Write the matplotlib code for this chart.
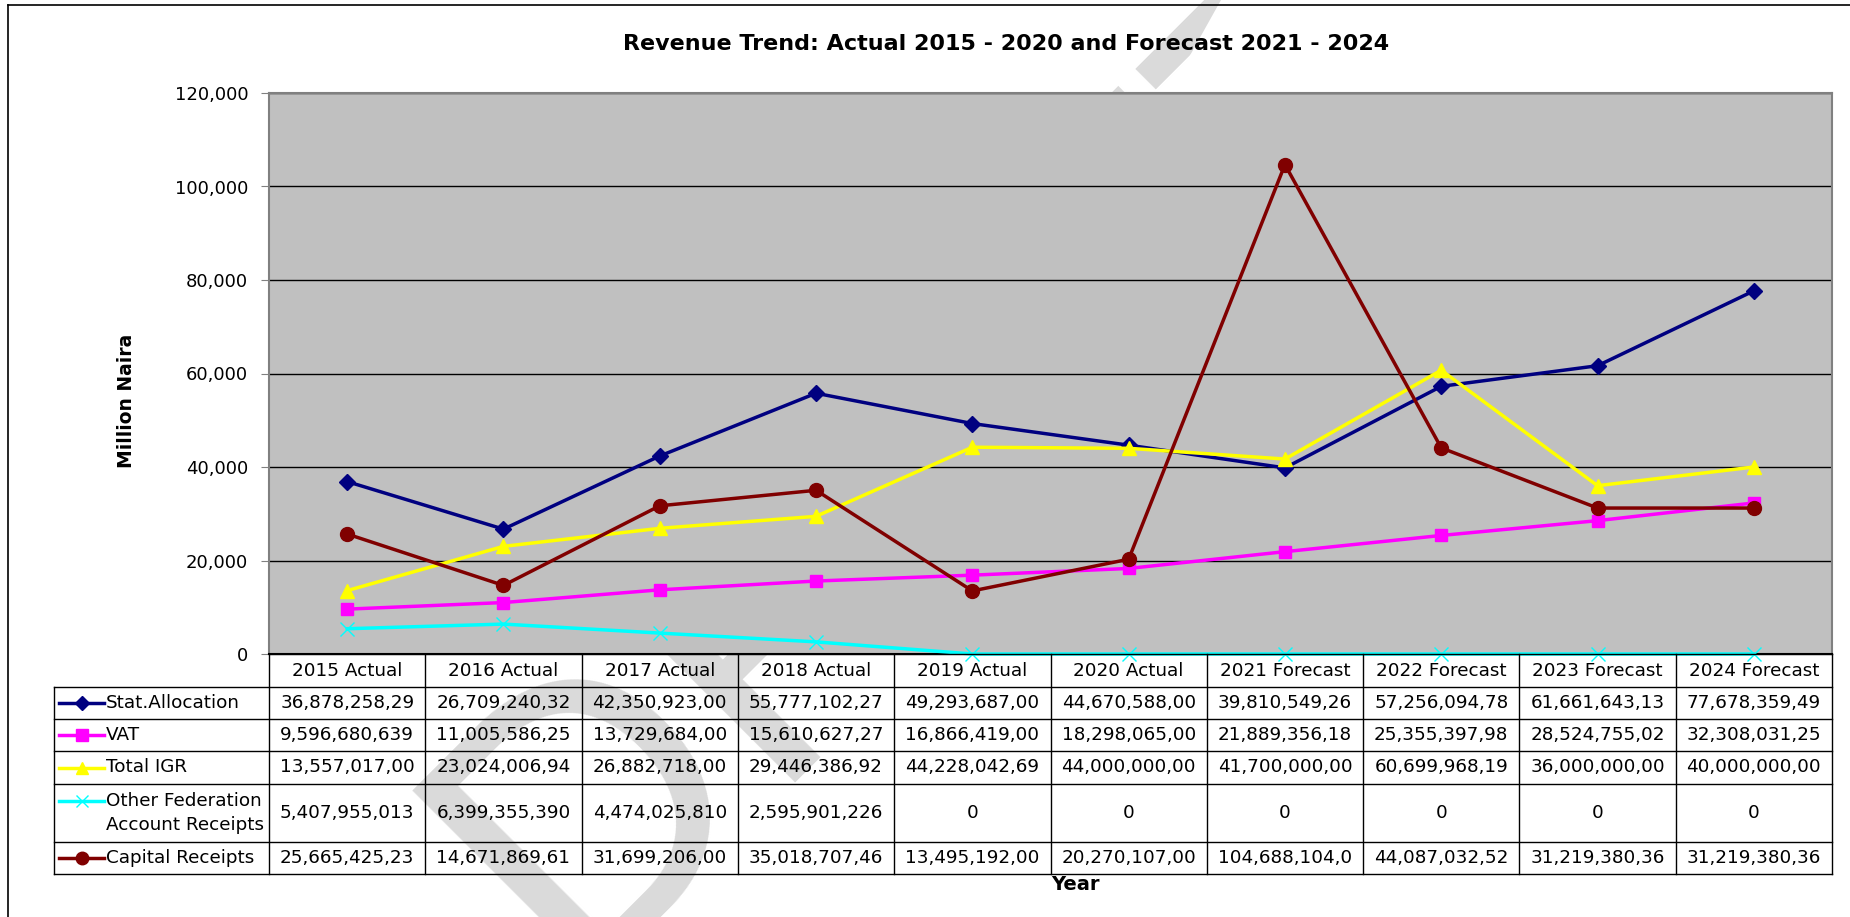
import matplotlib
matplotlib.use('Agg')
import matplotlib.pyplot as plt
from matplotlib.lines import Line2D
from matplotlib.patches import Polygon

# values in thousand naira, as printed in the data table
years = ['2015 Actual', '2016 Actual', '2017 Actual', '2018 Actual', '2019 Actual',
         '2020 Actual', '2021 Forecast', '2022 Forecast', '2023 Forecast', '2024 Forecast']
stat_alloc = [36878258.29, 26709240.32, 42350923.00, 55777102.27, 49293687.00,
              44670588.00, 39810549.26, 57256094.78, 61661643.13, 77678359.49]
vat = [9596680.639, 11005586.25, 13729684.00, 15610627.27, 16866419.00,
       18298065.00, 21889356.18, 25355397.98, 28524755.02, 32308031.25]
total_igr = [13557017.00, 23024006.94, 26882718.00, 29446386.92, 44228042.69,
             44000000.00, 41700000.00, 60699968.19, 36000000.00, 40000000.00]
other_fac = [5407955.013, 6399355.390, 4474025.810, 2595901.226, 0, 0, 0, 0, 0, 0]
capital = [25665425.23, 14671869.61, 31699206.00, 35018707.46, 13495192.00,
           20270107.00, 104688104.0, 44087032.52, 31219380.36, 31219380.36]
names = ['Stat.Allocation', 'VAT', 'Total IGR', 'Other Federation\nAccount Receipts', 'Capital Receipts']
yticks = [0, 20000, 40000, 60000, 80000, 100000, 120000]

W, H = 1850, 917
fntsz = 13.2


def fx(x):
    return x / W


def fy(y):
    return 1 - y / H


def cellstr(v):
    # excel-ish display: comma thousands, decimal shown as comma, cut to cell width
    if v == 0:
        return '0'
    return f'{v:,.3f}'.replace('.', ',')[:13]


series = [
    (stat_alloc, '#000080', 'D', 8, 2.5),
    (vat, '#FF00FF', 's', 9, 2.5),
    (total_igr, '#FFFF00', '^', 10, 2.5),
    (other_fac, '#00FFFF', 'x', 10, 2.5),
    (capital, '#800000', 'o', 10, 2.5),
]

fig = plt.figure(figsize=(W / 100, H / 100), dpi=100)
plt.rcParams['font.family'] = ['DejaVu Sans']

# page watermark, only the white parts show it
fig.text(fx(568), fy(978), 'DRAFT', rotation=45, rotation_mode='anchor', fontsize=276.5,
         color='#DADADA', family='Liberation Sans', ha='left', va='baseline', zorder=-5)
# rest of the last letter is off the page crop
fig.add_artist(Polygon([(fx(1221), 1), (1, 1), (1, fy(93)), (fx(1169), fy(93))],
                       closed=True, transform=fig.transFigure, fc='white', ec='none', zorder=-4))

# frame of the chart object (cropped at right/bottom)
fig.add_artist(Line2D([fx(8), fx(8)], [fy(5), 0], color='black', lw=1.2))
fig.add_artist(Line2D([fx(8), 1], [fy(5), fy(5)], color='black', lw=1.2))

L, R, T, B = 269, 1832, 93, 654
ax = fig.add_axes([fx(L), fy(B), fx(R - L), (B - T) / H])
ax.set_facecolor('#C0C0C0')
ax.set_xlim(-0.5, len(years) - 0.5)
ax.set_ylim(0, 120000)
ax.set_yticks(yticks)
ax.set_yticklabels([f'{t:,}' for t in yticks])
ax.set_xticks([])
ax.grid(axis='y', color='black', lw=1)
ax.set_axisbelow(True)
for s in ax.spines.values():
    s.set_color('#808080')
    s.set_linewidth(1.5)
ax.spines['bottom'].set_color('black')
ax.tick_params(axis='y', direction='out', length=6, color='#808080', labelsize=13, pad=9)

xs = list(range(len(years)))
for vals, col, mk, ms, lw in series:
    yv = [v / 1000 for v in vals]
    if mk == 'x':
        ax.plot(xs, yv, color=col, lw=lw, marker=mk, ms=ms, mew=1, clip_on=False, zorder=3)
    else:
        ax.plot(xs, yv, color=col, lw=lw, marker=mk, ms=ms, mec=col, mfc=col, zorder=3)

fig.text(fx(1006), fy(44), 'Revenue Trend: Actual 2015 - 2020 and Forecast 2021 - 2024',
         ha='center', va='center', fontsize=16, weight='bold')
fig.text(fx(127), fy(401), 'Million Naira', rotation=90, ha='center', va='center',
         fontsize=13.5, weight='bold')
fig.text(fx(1075), fy(885), 'Year', ha='center', va='center', fontsize=14, weight='bold')

# data table below the plot
rows = [B, 687, 719, 751, 784, 842, 874]
tl = 54
lc = 'black'
fig.canvas.draw()


def xpix(v):
    return ax.transData.transform((v, 0))[0]


bounds = [xpix(i - 0.5) for i in range(len(years) + 1)]
for bx in bounds:
    fig.add_artist(Line2D([fx(bx), fx(bx)], [fy(rows[0]), fy(rows[-1])], color=lc, lw=1))
fig.add_artist(Line2D([fx(tl), fx(tl)], [fy(rows[1]), fy(rows[-1])], color=lc, lw=1))
for i, ry in enumerate(rows):
    x0 = L if i == 0 else tl
    fig.add_artist(Line2D([fx(x0), fx(R)], [fy(ry), fy(ry)], color=lc, lw=1))

for j, yr in enumerate(years):
    fig.text(fx(xpix(j)), fy((rows[0] + rows[1]) / 2), yr, ha='center', va='center', fontsize=fntsz)

for i, (vals, col, mk, ms, lw) in enumerate(series):
    yc = (rows[i + 1] + rows[i + 2]) / 2
    parts = names[i].split('\n')
    if len(parts) == 1:
        ly = [yc]
    else:
        ly = [yc - 12.5, yc + 12.5]
    fig.add_artist(Line2D([fx(59), fx(104)], [fy(ly[0]), fy(ly[0])], color=col, lw=lw))
    fig.add_artist(Line2D([fx(82)], [fy(ly[0])], color=col, marker=mk, ms=ms - 1, mew=1,
                          mfc=col, mec=col))
    for p, py in zip(parts, ly):
        fig.text(fx(106), fy(py), p, ha='left', va='center', fontsize=fntsz)
    for j, v in enumerate(vals):
        fig.text(fx(xpix(j)), fy(yc), cellstr(v), ha='center', va='center', fontsize=fntsz)

fig.savefig('out.png', dpi=100)
